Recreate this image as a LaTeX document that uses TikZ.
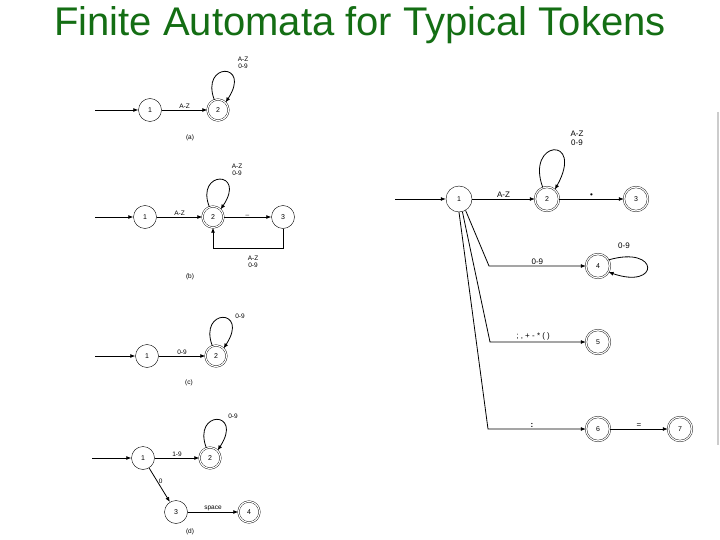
\documentclass[tikz,border=0pt]{standalone}
\usepackage{fontspec}
\setmainfont{Liberation Sans}
\usetikzlibrary{arrows.meta}
\definecolor{titlegreen}{RGB}{20,110,20}
\begin{document}
\begin{tikzpicture}[x=1pt,y=-1pt,
  st/.style={circle,draw,thin,minimum size=#1,inner sep=0pt,font=\fontsize{7}{8}\selectfont},
  st/.default=23pt,
  acc/.style={st=#1,double,double distance=1.2pt},
  acc/.default=21pt,
  ed/.style={-{Latex[length=5pt,width=4pt]},thick},
  lb/.style={font=\fontsize{6.5}{7.5}\selectfont,align=center,inner sep=1pt},
  rlb/.style={font=\fontsize{8}{9}\selectfont,align=center,inner sep=1pt}]
\useasboundingbox (0,0) rectangle (720,540);
\node[text=titlegreen,font=\fontsize{40}{44}\selectfont] (title) at (360,25) {Finite Automata for Typical Tokens};
\draw[gray!40,line width=1.5pt] (718,112) -- (718,445);
% (a)
\coordinate (a0) at (95,110);
\node[st] (a1) at (150,110) {1};
\node[acc] (a2) at (218,110) {2};
\draw[ed] (a0) -- (a1);
\draw[ed] (a1) -- node[lb,above]{A-Z} (a2);
\draw[ed] (a2.110) .. controls (200,62) and (252,62) .. (a2.45);
\node[lb] (al) at (243,63) {A-Z\\0-9};
\node[lb] (ac) at (190,138) {(a)};
% (b)
\coordinate (b0) at (95,217);
\node[st] (b1) at (145,217) {1};
\node[acc] (b2) at (213,217) {2};
\node[st] (b3) at (283,217) {3};
\draw[ed] (b0) -- (b1);
\draw[ed] (b1) -- node[lb,above]{A-Z} (b2);
\draw[ed] (b2) -- node[lb,above]{\_} (b3);
\draw[ed] (b3.south) |- (283,248) -- (213,248) -- (b2.south);
\draw[ed] (b2.110) .. controls (195,170) and (247,170) .. (b2.45);
\node[lb] (bl) at (237,170) {A-Z\\0-9};
\node[lb] (bl2) at (253,262) {A-Z\\0-9};
\node[lb] (bc) at (190,277) {(b)};
% (c)
\coordinate (c0) at (95,356);
\node[st] (c1) at (147,356) {1};
\node[acc] (c2) at (216,356) {2};
\draw[ed] (c0) -- (c1);
\draw[ed] (c1) -- node[lb,above]{0-9} (c2);
\draw[ed] (c2.110) .. controls (198,308) and (250,308) .. (c2.45);
\node[lb] (cl) at (240,316) {0-9};
\node[lb] (cc) at (189,383) {(c)};
% (d)
\coordinate (d0) at (92,458);
\node[st] (d1) at (143,458) {1};
\node[acc] (d2) at (210,458) {2};
\node[st] (d3) at (176,512) {3};
\node[acc] (d4) at (249,512) {4};
\draw[ed] (d0) -- (d1);
\draw[ed] (d1) -- node[lb,above]{1-9} (d2);
\draw[ed] (d1) -- node[lb,right,pos=0.4]{0} (d3);
\draw[ed] (d3) -- node[lb,above]{space} (d4);
\draw[ed] (d2.110) .. controls (192,410) and (244,410) .. (d2.45);
\node[lb] (dl) at (233,416) {0-9};
\node[lb] (dc) at (190,532) {(d)};
% right
\coordinate (r0) at (395,199);
\node[st=26pt] (r1) at (459,199) {1};
\node[acc=24pt] (r2) at (547,199) {2};
\node[acc=24pt] (r3) at (636,199) {3};
\node[acc=24pt] (r4) at (598,266) {4};
\node[acc=24pt] (r5) at (598,342) {5};
\node[acc=24pt] (r6) at (598,429) {6};
\node[acc=24pt] (r7) at (680,429) {7};
\draw[ed] (r0) -- (r1);
\draw[ed] (r1) -- node[rlb,above]{A-Z} (r2);
\draw[ed] (r2) -- node[rlb,above]{\textbullet} (r3);
\draw[ed] (r2.110) .. controls (525,140) and (585,135) .. (r2.50);
\node[rlb] (rl2) at (577,138) {A-Z\\0-9};
\draw[ed] (r1.-60) -- (489,266) -- node[rlb,above]{0-9} (r4);
\draw[ed] (r4.30) .. controls (660,245) and (660,290) .. (r4.-30);
\node[rlb] (rl4) at (624,246) {0-9};
\draw[ed] (r1.-75) -- (490,342) -- node[rlb,above,pos=0.45]{; , + - * ( )} (r5);
\draw[ed] (r1.-90) -- (488,429) -- node[rlb,above,pos=0.45]{\textbf{:}} (r6);
\draw[ed] (r6) -- node[rlb,above]{=} (r7);
\end{tikzpicture}
\end{document}
